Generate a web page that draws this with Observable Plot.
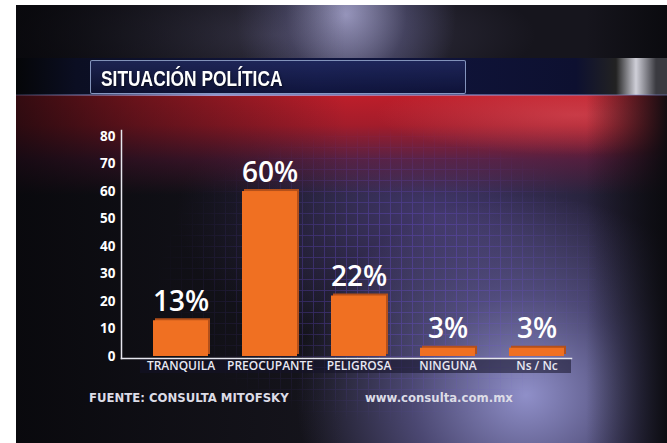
<!DOCTYPE html>
<html>
<head>
<meta charset="utf-8">
<script src="https://cdn.jsdelivr.net/npm/d3@7"></script>
<script src="https://cdn.jsdelivr.net/npm/@observablehq/plot@0.6"></script>
<style>
  html, body { margin: 0; padding: 0; background: #ffffff; }
  #wrap { position: relative; width: 667px; height: 443px; overflow: hidden; }
  #bg { position: absolute; left: 16px; top: 5px; width: 651px; height: 438px; overflow: hidden; background: #16151d; }
  #bg div { position: absolute; }
  .layer-full { left: 0; top: 0; width: 651px; height: 438px; }
  #title { position: absolute; left: 101px; top: 66px; font-family: "Liberation Sans", Arial, sans-serif; font-weight: bold; font-size: 22px; color: #ffffff; transform: scaleX(0.79); transform-origin: left top; white-space: nowrap; text-shadow: 1px 1px 2px rgba(0,0,0,0.6); }
  .foot { position: absolute; top: 391px; font-family: "DejaVu Sans", sans-serif; font-weight: bold; font-size: 11.7px; color: #dcdce6; white-space: nowrap; }
  #chart { position: absolute; left: 0; top: 0; }
</style>
</head>
<body>
<div id="wrap">
  <div id="bg">
    <!-- spotlight top -->
    <div class="layer-full" style="background: radial-gradient(ellipse 110px 120px at 330px 10px, rgba(190,190,235,0.85), rgba(120,120,180,0.35) 55%, rgba(0,0,0,0) 100%);"></div>
    <div class="layer-full" style="background: radial-gradient(ellipse 260px 70px at 260px 30px, rgba(110,105,140,0.45), rgba(0,0,0,0) 100%);"></div>
    <!-- purple mid glow -->
    <div class="layer-full" style="background: radial-gradient(ellipse 260px 140px at 420px 210px, rgba(90,75,150,0.65), rgba(0,0,0,0) 100%);"></div>
    <!-- lavender glow bottom right -->
    <div class="layer-full" style="background: radial-gradient(ellipse 230px 200px at 510px 390px, rgba(150,150,210,0.95), rgba(110,105,170,0.6) 50%, rgba(0,0,0,0) 100%);"></div>
    <!-- red band -->
    <div style="left:0; top:90px; width:651px; height:100px; background: linear-gradient(to bottom, rgba(190,30,42,1) 0%, rgba(170,28,42,0.95) 30%, rgba(120,30,70,0.55) 65%, rgba(0,0,0,0) 100%);"></div>
    <div style="left:0; top:90px; width:651px; height:60px; background: radial-gradient(ellipse 200px 40px at 560px 20px, rgba(230,90,100,0.5), rgba(0,0,0,0) 100%);"></div>
    <!-- grid pattern -->
    <div style="left:110px; top:120px; width:470px; height:300px; opacity:0.35; background-image: repeating-linear-gradient(to right, rgba(110,80,220,0.9) 0 1px, rgba(0,0,0,0) 1px 11px), repeating-linear-gradient(to bottom, rgba(110,80,220,0.9) 0 1px, rgba(0,0,0,0) 1px 11px); -webkit-mask-image: radial-gradient(ellipse 230px 150px at 260px 150px, #000 40%, transparent 100%); mask-image: radial-gradient(ellipse 230px 150px at 260px 150px, #000 40%, transparent 100%);"></div>
    <!-- left dark -->
    <div class="layer-full" style="background: linear-gradient(to right, rgba(5,5,8,0.75) 0px, rgba(5,5,8,0.45) 120px, rgba(0,0,0,0) 330px);"></div>
    <!-- right dark edge -->
    <div class="layer-full" style="background: linear-gradient(to right, rgba(0,0,0,0) 570px, rgba(10,10,14,0.95) 651px);"></div>
    <!-- title banner -->
    <div style="left:0; top:53px; width:651px; height:37px; background: linear-gradient(to right, #050608 0px, #0b0e22 60px, #111640 300px, #0d1030 560px, #222 600px, #cfcfd8 620px, #3a3a40 640px);"></div>
    <div style="left:74px; top:55px; width:374px; height:32px; border: 1px solid rgba(170,190,230,0.75); border-radius: 2px; background: linear-gradient(to bottom, rgba(40,50,110,0.6), rgba(15,20,60,0.4));"></div>
    <div style="left:0; top:89px; width:651px; height:2px; background: linear-gradient(to right, rgba(120,130,200,0.2), rgba(170,180,240,0.8) 200px, rgba(120,130,200,0.3));"></div>
    <!-- label strip -->
    <div style="left:124px; top:354px; width:431px; height:14px; background: rgba(20,18,40,0.55);"></div>
  </div>
  <div id="title">SITUACIÓN POLÍTICA</div>
  <div class="foot" style="left:89px;">FUENTE: CONSULTA MITOFSKY</div>
  <div class="foot" style="left:365px;">www.consulta.com.mx</div>
  <div id="chart"></div>
</div>
<script>
const categories = ["TRANQUILA", "PREOCUPANTE", "PELIGROSA", "NINGUNA", "Ns / Nc"];
const values = [13, 60, 22, 3, 3];
const valueLabels = ["13%", "60%", "22%", "3%", "3%"];
const yTicks = [0, 10, 20, 30, 40, 50, 60, 70, 80];

const data = categories.map((c, i) => ({category: c, value: values[i], label: valueLabels[i]}));

const chart = Plot.plot({
  width: 667,
  height: 443,
  marginLeft: 121,
  marginRight: 96,
  marginTop: 130,
  marginBottom: 85,
  style: {background: "transparent", overflow: "visible"},
  x: {domain: categories, paddingInner: 0.384, paddingOuter: 0.213, align: 0.82, label: null},
  y: {domain: [-0.73, 82.2], label: null},
  marks: [
    Plot.frame({anchor: "left", stroke: "#e6e6ee", strokeWidth: 1.5}),
    Plot.frame({anchor: "bottom", stroke: "#e6e6ee", strokeWidth: 1.5}),
    Plot.barY(data, {x: "category", y1: 0, y2: "value", fill: "#b4501a", dx: 2, dy: -2}),
    Plot.barY(data, {x: "category", y1: 0, y2: "value", fill: "#f07022"}),
    Plot.text(data, {x: "category", y: "value", text: "label", dy: -10, lineAnchor: "bottom", fill: "white", fontSize: 28, fontWeight: 600, fontFamily: "Open Sans, sans-serif", textAnchor: "middle"}),
    Plot.axisY({ticks: yTicks, tickSize: 0, tickPadding: 6, fill: "white", fontSize: 13.5, fontWeight: "bold", fontFamily: "Open Sans, sans-serif", label: null}),
    Plot.axisX({tickSize: 0, tickPadding: 3, fill: "#e8e8f2", fontSize: 12, fontWeight: 600, fontFamily: "Open Sans, sans-serif", label: null})
  ]
});
document.getElementById("chart").appendChild(chart);
</script>
</body>
</html>
